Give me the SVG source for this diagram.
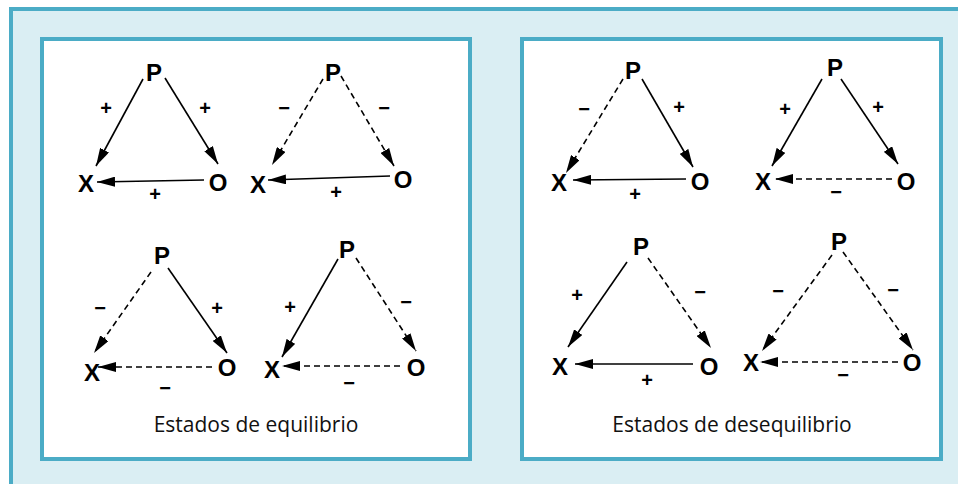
<svg xmlns="http://www.w3.org/2000/svg" width="958" height="484" viewBox="0 0 958 484">
<style>
.frame{fill:#DAEEF3;stroke:#4BACC6;stroke-width:4}
.panel{fill:#FFFFFF;stroke:#4BACC6;stroke-width:4}
.n{font-family:"Liberation Sans",Arial,sans-serif;font-weight:bold;font-size:24px;fill:#000;text-anchor:middle}
.s{font-family:"Liberation Sans",Arial,sans-serif;font-weight:bold;font-size:20px;fill:#000;text-anchor:middle}
.cap{font-family:"Open Sans","Noto Sans",sans-serif;font-size:21px;fill:#111;text-anchor:middle}
.e{stroke:#000;stroke-width:1.6;fill:none;marker-end:url(#ah)}
.d{stroke-dasharray:6 4}
</style>
<defs>
<marker id="ah" markerUnits="userSpaceOnUse" markerWidth="19" markerHeight="10" refX="18" refY="5" orient="auto">
<path d="M0,0 L18,5 L0,10 z" fill="#000"/>
</marker>
</defs>
<rect class="frame" x="11" y="9" width="960" height="500"/>
<rect class="panel" x="42" y="39" width="428" height="420"/>
<rect class="panel" x="522" y="39" width="419" height="420"/>

<g id="connectors">
<line class="e" x1="143" y1="79" x2="96" y2="166"/>
<line class="e" x1="165" y1="78" x2="218" y2="164"/>
<line class="e" x1="204" y1="180" x2="97" y2="182"/>
<line class="e d" x1="323" y1="79" x2="272" y2="165"/>
<line class="e d" x1="341" y1="76" x2="394" y2="166"/>
<line class="e" x1="390" y1="176" x2="268" y2="180"/>
<line class="e d" x1="623" y1="79" x2="566" y2="173"/>
<line class="e" x1="642" y1="79" x2="693" y2="167"/>
<line class="e" x1="686" y1="179" x2="573" y2="180"/>
<line class="e" x1="822" y1="79" x2="772" y2="166"/>
<line class="e" x1="841" y1="79" x2="898" y2="164"/>
<line class="e d" x1="892" y1="179" x2="775" y2="179"/>
<line class="e d" x1="151" y1="272" x2="94" y2="353"/>
<line class="e" x1="168" y1="268" x2="227" y2="353"/>
<line class="e d" x1="212" y1="367" x2="98" y2="367"/>
<line class="e" x1="338" y1="259" x2="282" y2="357"/>
<line class="e d" x1="356" y1="258" x2="416" y2="351"/>
<line class="e d" x1="400" y1="366" x2="282" y2="366"/>
<line class="e" x1="627" y1="262" x2="568" y2="347"/>
<line class="e d" x1="648" y1="258" x2="711" y2="348"/>
<line class="e" x1="693" y1="364" x2="575" y2="364"/>
<line class="e d" x1="832" y1="255" x2="762" y2="351"/>
<line class="e d" x1="843" y1="252" x2="913" y2="350"/>
<line class="e d" x1="898" y1="362" x2="760" y2="362"/>
</g>

<g id="t1">
<text class="n" x="154" y="81">P</text><text class="n" x="86" y="192">X</text><text class="n" x="218" y="191">O</text>
<text class="s" x="106" y="115">+</text><text class="s" x="205" y="115">+</text><text class="s" x="155" y="201">+</text>
</g>
<g id="t2">
<text class="n" x="333" y="81">P</text><text class="n" x="258" y="193">X</text><text class="n" x="403" y="188">O</text>
<text class="s" x="284" y="115">−</text><text class="s" x="384" y="115">−</text><text class="s" x="336" y="199">+</text>
</g>
<g id="t3">
<text class="n" x="633" y="79">P</text><text class="n" x="559" y="191">X</text><text class="n" x="700" y="190">O</text>
<text class="s" x="584" y="116">−</text><text class="s" x="679" y="114">+</text><text class="s" x="635" y="201">+</text>
</g>
<g id="t4">
<text class="n" x="835" y="76">P</text><text class="n" x="763" y="190">X</text><text class="n" x="906" y="190">O</text>
<text class="s" x="785" y="116">+</text><text class="s" x="878" y="114">+</text><text class="s" x="836" y="199">−</text>
</g>
<g id="t5">
<text class="n" x="162" y="264">P</text><text class="n" x="92" y="381">X</text><text class="n" x="227" y="376">O</text>
<text class="s" x="100" y="315">−</text><text class="s" x="217" y="315">+</text><text class="s" x="165" y="395">−</text>
</g>
<g id="t6">
<text class="n" x="347" y="258">P</text><text class="n" x="272" y="378">X</text><text class="n" x="416" y="376">O</text>
<text class="s" x="290" y="314">+</text><text class="s" x="406" y="309">−</text><text class="s" x="349" y="390">−</text>
</g>
<g id="t7">
<text class="n" x="641" y="255">P</text><text class="n" x="560" y="375">X</text><text class="n" x="709" y="375">O</text>
<text class="s" x="577" y="302">+</text><text class="s" x="700" y="299">−</text><text class="s" x="647" y="387">+</text>
</g>
<g id="t8">
<text class="n" x="839" y="250">P</text><text class="n" x="751" y="371">X</text><text class="n" x="912" y="371">O</text>
<text class="s" x="778" y="298">−</text><text class="s" x="893" y="297">−</text><text class="s" x="843" y="382">−</text>
</g>
<text class="cap" x="256" y="432">Estados de equilibrio</text>
<text class="cap" x="732" y="432">Estados de desequilibrio</text>
</svg>
